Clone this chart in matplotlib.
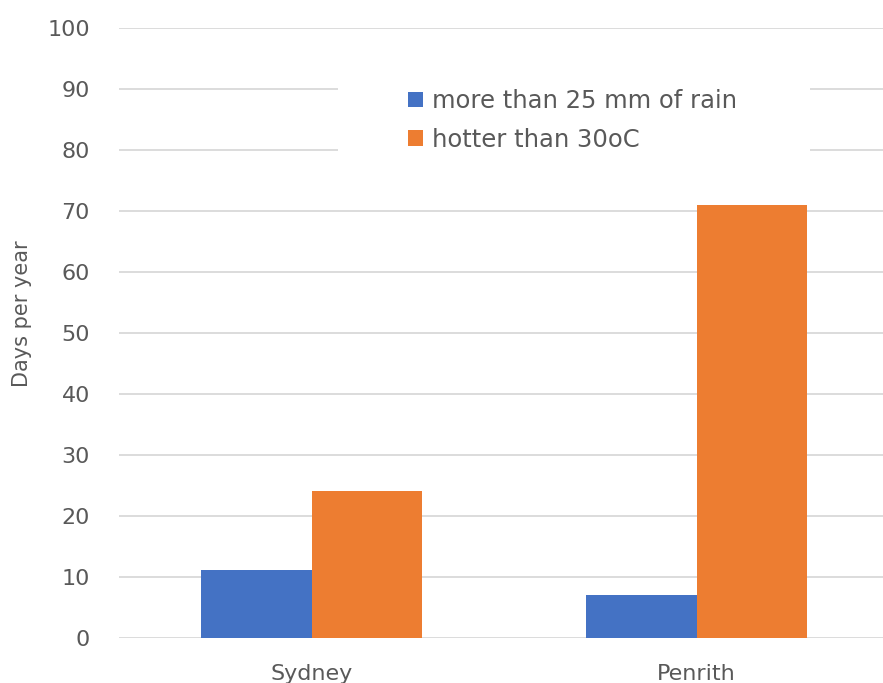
import matplotlib
matplotlib.use("Agg")
import matplotlib.pyplot as plt
from matplotlib.patches import Rectangle
import numpy as np

plt.rcParams['font.family'] = ['DejaVu Sans']

cities = ["Sydney", "Penrith"]
rain_days = [11, 7]
hot_days = [24, 71]
series_labels = ["more than 25 mm of rain", "hotter than 30oC"]
y_ticks = list(range(0, 101, 10))

BLUE = "#4472C4"
ORANGE = "#ED7D31"
GREY_TEXT = "#595959"
GRID = "#D9D9D9"

W, H = 883, 683
fig = plt.figure(figsize=(W / 100, H / 100), dpi=100)
# plot area runs past the right edge of the canvas
ax = fig.add_axes([119 / W, (H - 637.5) / H, 770 / W, 609.5 / H])

x = np.arange(len(cities))
bw = 0.286
ax.bar(x - bw / 2, rain_days, bw, color=BLUE, label=series_labels[0], zorder=2)
ax.bar(x + bw / 2, hot_days, bw, color=ORANGE, label=series_labels[1], zorder=2)

ax.set_xlim(-0.5, 1.5)
ax.set_ylim(0, 100)
ax.set_yticks(y_ticks)
ax.set_xticks(x)
ax.set_xticklabels(cities)
ax.grid(axis='y', color=GRID, linewidth=1.3, zorder=0)
ax.set_axisbelow(True)
for s in ax.spines.values():
    s.set_visible(False)
ax.tick_params(axis='both', length=0, labelsize=16, colors=GREY_TEXT)
ax.tick_params(axis='y', pad=21)
ax.tick_params(axis='x', pad=19)

# white backing behind the legend, interrupting the gridlines
fig.patches.append(Rectangle((338 / W, (H - 168) / H), 472 / W, 96 / H,
                             transform=fig.transFigure, facecolor='white',
                             edgecolor='none', zorder=1))
ax.set_zorder(0)
ax.patch.set_alpha(0)

leg = fig.legend(loc='upper left', bbox_to_anchor=(408 / W, (H - 89) / H),
                 frameon=False, fontsize=17.5, labelcolor=GREY_TEXT,
                 handlelength=0.62, handleheight=0.62, handletextpad=0.37,
                 labelspacing=0.6, borderpad=0, borderaxespad=0)
leg.set_zorder(5)

fig.text(22 / W, (H - 314) / H, "Days per year", rotation=90,
         ha='center', va='center', fontsize=15, color=GREY_TEXT)

fig.savefig("out.png", dpi=100, facecolor='white')
